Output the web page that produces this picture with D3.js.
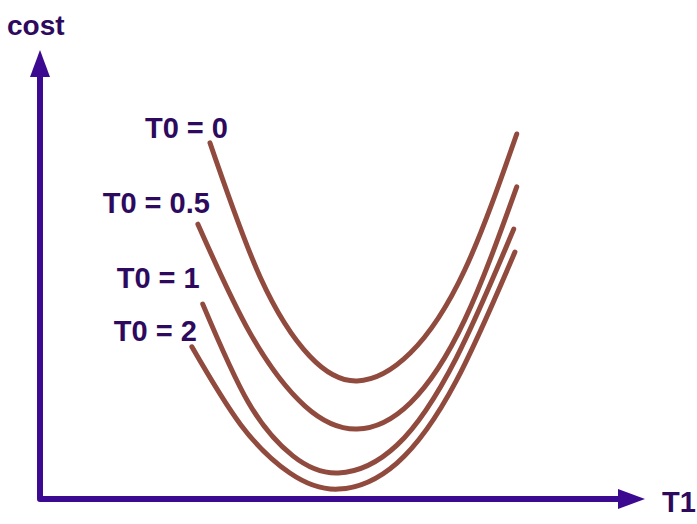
<!DOCTYPE html>
<html>
<head>
<meta charset="utf-8">
<script src="https://cdn.jsdelivr.net/npm/d3@7"></script>
<style>
  html, body { margin: 0; padding: 0; background: #ffffff; }
  svg { display: block; }
</style>
</head>
<body>
<svg id="chart" width="697" height="524"></svg>
<script>
// ---- data (T1, cost) ----
const t0Values = ["0", "0.5", "1", "2"];

const curveT0_0 = [
  [2.81, 7.93], [3.64, 4.94], [4.46, 3.18], [5.24, 2.63],
  [6.12, 3.25], [7.02, 5.10], [7.88, 8.13]
];
const curveT0_05 = [
  [2.61, 6.12], [3.47, 3.70], [4.38, 2.07], [5.24, 1.56],
  [6.12, 2.14], [7.02, 3.99], [7.88, 6.95]
];
const curveT0_1 = [
  [2.69, 4.34], [3.44, 2.16], [4.18, 0.96], [4.93, 0.58],
  [5.90, 1.20], [6.88, 3.14], [7.83, 6.01]
];
const curveT0_2 = [
  [2.51, 3.39], [3.32, 1.65], [4.13, 0.58], [4.93, 0.22],
  [5.90, 0.80], [6.88, 2.63], [7.85, 5.50]
];
const xAxisLabel = "T1";
const yAxisLabel = "cost";

// ---- drawing ----
const svg = d3.select("#chart");
const x = d3.scaleLinear().domain([0, 10]).range([40, 645]);
const y = d3.scaleLinear().domain([0, 10]).range([499, 50]);

const axisColor = "#3c0a91";
const textColor = "#2d0a5e";
const curveColor = "#914b3e";
const font = "'Liberation Sans', Arial, sans-serif";

const x0 = x(0), y0 = y(0), xTip = x.range()[1], yTip = y.range()[1];
const head = 27, halfW = 10;

// axes lines
svg.append("path")
  .attr("d", d3.line()([[x0, yTip + head - 1], [x0, y0], [xTip - head + 1, y0]]))
  .attr("fill", "none")
  .attr("stroke", axisColor)
  .attr("stroke-width", 6)
  .attr("stroke-linejoin", "round");

// arrowheads
svg.append("path")
  .attr("d", d3.line()([[x0, yTip], [x0 - halfW, yTip + head], [x0 + halfW, yTip + head]]) + "Z")
  .attr("fill", axisColor);
svg.append("path")
  .attr("d", d3.line()([[xTip, y0], [xTip - head, y0 - halfW], [xTip - head, y0 + halfW]]) + "Z")
  .attr("fill", axisColor);

// axis labels
svg.append("text")
  .attr("x", x0 - 33).attr("y", yTip - 15)
  .attr("font-family", font).attr("font-weight", 700).attr("font-size", 28)
  .attr("fill", textColor)
  .text(yAxisLabel);
svg.append("text")
  .attr("x", xTip + 17).attr("y", y0 + 13)
  .attr("font-family", font).attr("font-weight", 700).attr("font-size", 29)
  .attr("fill", textColor)
  .text(xAxisLabel);

// curves
const curves = [curveT0_0, curveT0_05, curveT0_1, curveT0_2];
const line = d3.line()
  .x(d => x(d[0])).y(d => y(d[1]))
  .curve(d3.curveNatural);

svg.selectAll("path.curve")
  .data(curves)
  .join("path")
  .attr("class", "curve")
  .attr("d", line)
  .attr("fill", "none")
  .attr("stroke", curveColor)
  .attr("stroke-width", 5)
  .attr("stroke-linecap", "round");

// curve labels, placed near each curve's start
const labelOffsets = [[18, -5], [12, -11], [-3, -16], [5, -6]];
svg.selectAll("text.t0")
  .data(curves)
  .join("text")
  .attr("class", "t0")
  .attr("x", (d, i) => x(d[0][0]) + labelOffsets[i][0])
  .attr("y", (d, i) => y(d[0][1]) + labelOffsets[i][1])
  .attr("text-anchor", "end")
  .attr("font-family", font).attr("font-weight", 700).attr("font-size", 29)
  .attr("fill", textColor)
  .text((d, i) => "T0 = " + t0Values[i]);
</script>
</body>
</html>
